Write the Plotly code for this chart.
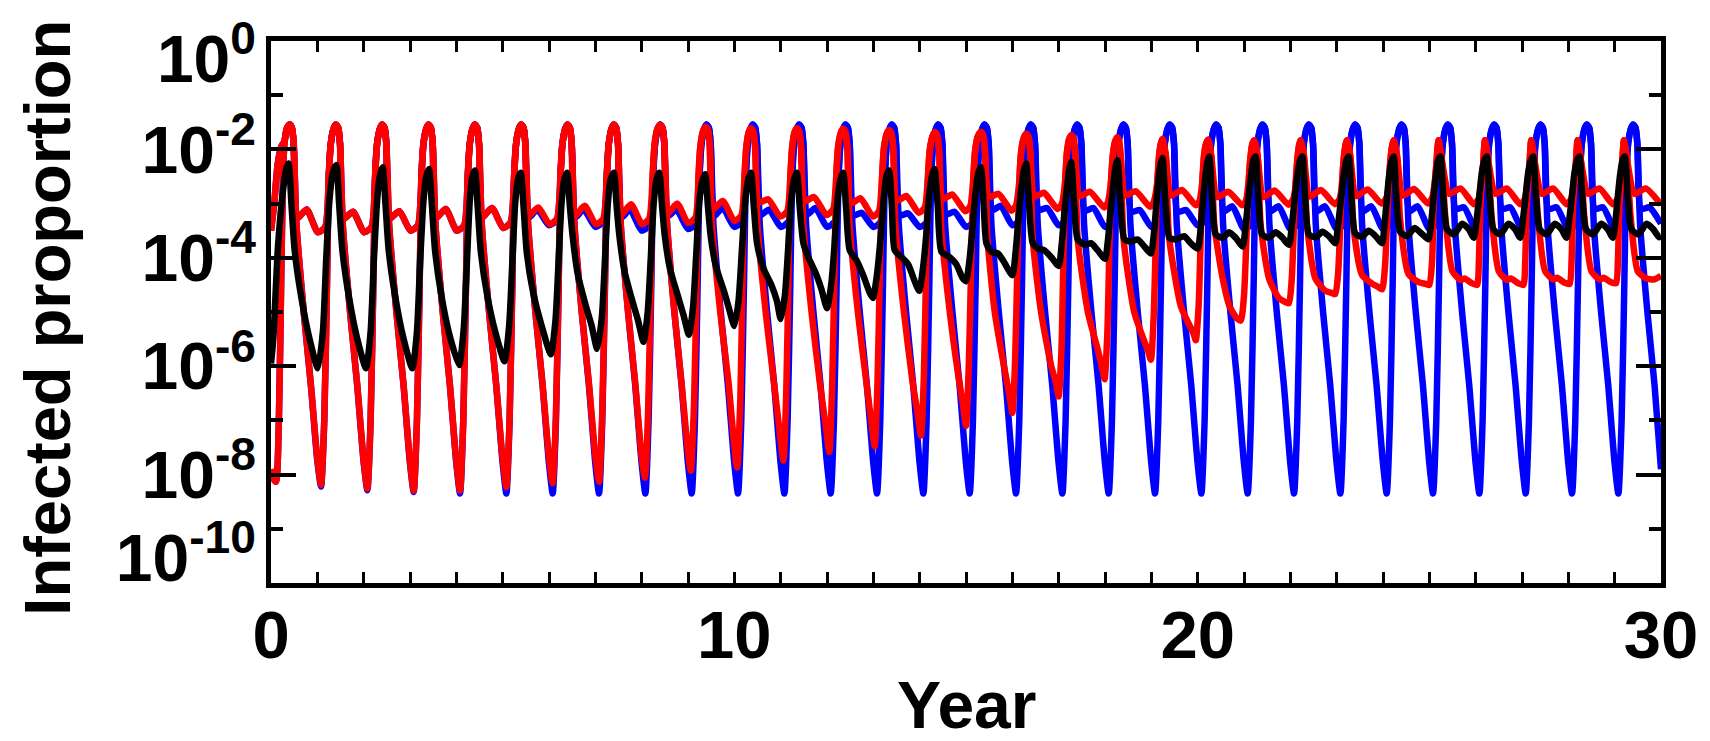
import plotly.graph_objects as go

FONT = "Liberation Sans, Arial, Helvetica, sans-serif"

# (year, log10 of infected proportion)

blue_main = [
    (0.00, -7.90), (0.06, -8.08), (0.11, -8.13), (0.17, -7.00), (0.22, -4.40), (0.26, -2.45), (0.29, -1.90), (0.34, -1.62), (0.40, -1.54),
    (0.45, -1.60), (0.49, -1.90), (0.55, -3.40), (0.71, -5.03), (0.86, -6.34), (1.00, -7.75), (1.08, -8.22), (1.15, -7.00), (1.21, -4.40), (1.25, -2.45), (1.29, -1.90), (1.35, -1.62), (1.40, -1.54),
    (1.45, -1.60), (1.49, -1.90), (1.55, -3.40), (1.71, -5.03), (1.86, -6.34), (2.00, -7.78), (2.08, -8.29), (2.15, -7.00), (2.21, -4.40), (2.25, -2.45), (2.29, -1.90), (2.35, -1.62), (2.40, -1.54),
    (2.45, -1.60), (2.49, -1.90), (2.55, -3.40), (2.71, -5.03), (2.86, -6.34), (3.00, -7.80), (3.08, -8.32), (3.15, -7.00), (3.21, -4.40), (3.25, -2.45), (3.29, -1.90), (3.35, -1.62), (3.40, -1.54),
    (3.45, -1.60), (3.49, -1.90), (3.55, -3.40), (3.71, -5.03), (3.86, -6.34), (4.00, -7.80), (4.08, -8.35), (4.15, -7.00), (4.21, -4.40), (4.25, -2.45), (4.29, -1.90), (4.35, -1.62), (4.40, -1.54),
    (4.45, -1.60), (4.49, -1.90), (4.55, -3.40), (4.71, -5.03), (4.86, -6.34), (5.00, -7.80), (5.08, -8.35), (5.15, -7.00), (5.21, -4.40), (5.25, -2.45), (5.29, -1.90), (5.35, -1.62), (5.40, -1.54),
    (5.45, -1.60), (5.49, -1.90), (5.55, -3.40), (5.71, -5.03), (5.86, -6.34), (6.00, -7.80), (6.08, -8.35), (6.15, -7.00), (6.21, -4.40), (6.25, -2.45), (6.29, -1.90), (6.35, -1.62), (6.40, -1.54),
    (6.45, -1.60), (6.49, -1.90), (6.55, -3.40), (6.71, -5.03), (6.86, -6.34), (7.00, -7.80), (7.08, -8.35), (7.15, -7.00), (7.21, -4.40), (7.25, -2.45), (7.29, -1.90), (7.35, -1.62), (7.40, -1.54),
    (7.45, -1.60), (7.49, -1.90), (7.55, -3.40), (7.71, -5.03), (7.86, -6.34), (8.00, -7.80), (8.08, -8.35), (8.15, -7.00), (8.21, -4.40), (8.25, -2.45), (8.29, -1.90), (8.35, -1.62), (8.40, -1.54),
    (8.45, -1.60), (8.49, -1.90), (8.55, -3.40), (8.71, -5.03), (8.86, -6.34), (9.00, -7.80), (9.08, -8.35), (9.15, -7.00), (9.21, -4.40), (9.25, -2.45), (9.29, -1.90), (9.35, -1.62), (9.40, -1.54),
    (9.45, -1.60), (9.49, -1.90), (9.55, -3.40), (9.71, -5.03), (9.86, -6.34), (10.00, -7.80), (10.08, -8.35), (10.15, -7.00), (10.21, -4.40), (10.25, -2.45), (10.29, -1.90), (10.35, -1.62), (10.40, -1.54),
    (10.45, -1.60), (10.49, -1.90), (10.55, -3.40), (10.71, -5.03), (10.86, -6.34), (11.00, -7.80), (11.08, -8.35), (11.15, -7.00), (11.21, -4.40), (11.25, -2.45), (11.29, -1.90), (11.35, -1.62), (11.40, -1.54),
    (11.45, -1.60), (11.49, -1.90), (11.55, -3.40), (11.71, -5.03), (11.86, -6.34), (12.00, -7.80), (12.08, -8.35), (12.15, -7.00), (12.21, -4.40), (12.25, -2.45), (12.29, -1.90), (12.35, -1.62), (12.40, -1.54),
    (12.45, -1.60), (12.49, -1.90), (12.55, -3.40), (12.71, -5.03), (12.86, -6.34), (13.00, -7.80), (13.08, -8.35), (13.15, -7.00), (13.21, -4.40), (13.25, -2.45), (13.29, -1.90), (13.35, -1.62), (13.40, -1.54),
    (13.45, -1.60), (13.49, -1.90), (13.55, -3.40), (13.71, -5.03), (13.86, -6.34), (14.00, -7.80), (14.08, -8.35), (14.15, -7.00), (14.21, -4.40), (14.25, -2.45), (14.29, -1.90), (14.35, -1.62), (14.40, -1.54),
    (14.45, -1.60), (14.49, -1.90), (14.55, -3.40), (14.71, -5.03), (14.86, -6.34), (15.00, -7.80), (15.08, -8.35), (15.15, -7.00), (15.21, -4.40), (15.25, -2.45), (15.29, -1.90), (15.35, -1.62), (15.40, -1.54),
    (15.45, -1.60), (15.49, -1.90), (15.55, -3.40), (15.71, -5.03), (15.86, -6.34), (16.00, -7.80), (16.08, -8.35), (16.15, -7.00), (16.21, -4.40), (16.25, -2.45), (16.29, -1.90), (16.35, -1.62), (16.40, -1.54),
    (16.45, -1.60), (16.49, -1.90), (16.55, -3.40), (16.71, -5.03), (16.86, -6.34), (17.00, -7.80), (17.08, -8.35), (17.15, -7.00), (17.21, -4.40), (17.25, -2.45), (17.29, -1.90), (17.35, -1.62), (17.40, -1.54),
    (17.45, -1.60), (17.49, -1.90), (17.55, -3.40), (17.71, -5.03), (17.86, -6.34), (18.00, -7.80), (18.08, -8.35), (18.15, -7.00), (18.21, -4.40), (18.25, -2.45), (18.29, -1.90), (18.35, -1.62), (18.40, -1.54),
    (18.45, -1.60), (18.49, -1.90), (18.55, -3.40), (18.71, -5.03), (18.86, -6.34), (19.00, -7.80), (19.08, -8.35), (19.15, -7.00), (19.21, -4.40), (19.25, -2.45), (19.29, -1.90), (19.35, -1.62), (19.40, -1.54),
    (19.45, -1.60), (19.49, -1.90), (19.55, -3.40), (19.71, -5.03), (19.86, -6.34), (20.00, -7.80), (20.08, -8.35), (20.15, -7.00), (20.21, -4.40), (20.25, -2.45), (20.29, -1.90), (20.35, -1.62), (20.40, -1.54),
    (20.45, -1.60), (20.49, -1.90), (20.55, -3.40), (20.71, -5.03), (20.86, -6.34), (21.00, -7.80), (21.08, -8.35), (21.15, -7.00), (21.21, -4.40), (21.25, -2.45), (21.29, -1.90), (21.35, -1.62), (21.40, -1.54),
    (21.45, -1.60), (21.49, -1.90), (21.55, -3.40), (21.71, -5.03), (21.86, -6.34), (22.00, -7.80), (22.08, -8.35), (22.15, -7.00), (22.21, -4.40), (22.25, -2.45), (22.29, -1.90), (22.35, -1.62), (22.40, -1.54),
    (22.45, -1.60), (22.49, -1.90), (22.55, -3.40), (22.71, -5.03), (22.86, -6.34), (23.00, -7.80), (23.08, -8.35), (23.15, -7.00), (23.21, -4.40), (23.25, -2.45), (23.29, -1.90), (23.35, -1.62), (23.40, -1.54),
    (23.45, -1.60), (23.49, -1.90), (23.55, -3.40), (23.71, -5.03), (23.86, -6.34), (24.00, -7.80), (24.08, -8.35), (24.15, -7.00), (24.21, -4.40), (24.25, -2.45), (24.29, -1.90), (24.35, -1.62), (24.40, -1.54),
    (24.45, -1.60), (24.49, -1.90), (24.55, -3.40), (24.71, -5.03), (24.86, -6.34), (25.00, -7.80), (25.08, -8.35), (25.15, -7.00), (25.21, -4.40), (25.25, -2.45), (25.29, -1.90), (25.35, -1.62), (25.40, -1.54),
    (25.45, -1.60), (25.49, -1.90), (25.55, -3.40), (25.71, -5.03), (25.86, -6.34), (26.00, -7.80), (26.08, -8.35), (26.15, -7.00), (26.21, -4.40), (26.25, -2.45), (26.29, -1.90), (26.35, -1.62), (26.40, -1.54),
    (26.45, -1.60), (26.49, -1.90), (26.55, -3.40), (26.71, -5.03), (26.86, -6.34), (27.00, -7.80), (27.08, -8.35), (27.15, -7.00), (27.21, -4.40), (27.25, -2.45), (27.29, -1.90), (27.35, -1.62), (27.40, -1.54),
    (27.45, -1.60), (27.49, -1.90), (27.55, -3.40), (27.71, -5.03), (27.86, -6.34), (28.00, -7.80), (28.08, -8.35), (28.15, -7.00), (28.21, -4.40), (28.25, -2.45), (28.29, -1.90), (28.35, -1.62), (28.40, -1.54),
    (28.45, -1.60), (28.49, -1.90), (28.55, -3.40), (28.71, -5.03), (28.86, -6.34), (29.00, -7.80), (29.08, -8.35), (29.15, -7.00), (29.21, -4.40), (29.25, -2.45), (29.29, -1.90), (29.35, -1.62), (29.40, -1.54),
    (29.45, -1.60), (29.49, -1.90), (29.55, -3.40), (29.71, -5.03), (29.86, -6.34), (30.00, -7.90),
]

blue_upper = [
    (0.00, -3.50), (0.07, -3.00), (0.14, -2.30), (0.22, -1.95), (0.29, -1.85), (0.34, -1.62), (0.40, -1.54),
    (0.45, -1.60), (0.49, -1.90), (0.56, -3.27), (0.77, -3.11), (1.01, -3.53), (1.17, -3.43), (1.25, -2.45), (1.29, -1.90), (1.35, -1.62), (1.40, -1.54),
    (1.45, -1.60), (1.49, -1.90), (1.56, -3.28), (1.77, -3.15), (2.01, -3.53), (2.17, -3.43), (2.25, -2.45), (2.29, -1.90), (2.35, -1.62), (2.40, -1.54),
    (2.45, -1.60), (2.49, -1.90), (2.56, -3.27), (2.77, -3.14), (3.01, -3.50), (3.17, -3.40), (3.25, -2.45), (3.29, -1.90), (3.35, -1.62), (3.40, -1.54),
    (3.45, -1.60), (3.49, -1.90), (3.56, -3.26), (3.77, -3.10), (4.01, -3.50), (4.17, -3.40), (4.25, -2.45), (4.29, -1.90), (4.35, -1.62), (4.40, -1.54),
    (4.45, -1.60), (4.49, -1.90), (4.56, -3.25), (4.77, -3.08), (5.01, -3.45), (5.17, -3.35), (5.25, -2.45), (5.29, -1.90), (5.35, -1.62), (5.40, -1.54),
    (5.45, -1.60), (5.49, -1.90), (5.57, -3.25), (5.75, -3.11), (6.00, -3.40), (6.17, -3.30), (6.25, -2.45), (6.29, -1.90), (6.35, -1.62), (6.40, -1.54),
    (6.45, -1.60), (6.49, -1.90), (6.57, -3.25), (6.75, -3.11), (7.00, -3.43), (7.17, -3.33), (7.25, -2.45), (7.29, -1.90), (7.35, -1.62), (7.40, -1.54),
    (7.45, -1.60), (7.49, -1.90), (7.57, -3.25), (7.75, -3.11), (8.00, -3.50), (8.17, -3.40), (8.25, -2.45), (8.29, -1.90), (8.35, -1.62), (8.40, -1.54),
    (8.45, -1.60), (8.49, -1.90), (8.57, -3.23), (8.75, -3.11), (9.00, -3.47), (9.17, -3.37), (9.25, -2.45), (9.29, -1.90), (9.35, -1.62), (9.40, -1.54),
    (9.45, -1.60), (9.49, -1.90), (9.57, -3.22), (9.75, -3.08), (10.00, -3.43), (10.17, -3.33), (10.25, -2.45), (10.29, -1.90), (10.35, -1.62), (10.40, -1.54),
    (10.45, -1.60), (10.49, -1.90), (10.57, -3.21), (10.75, -3.11), (11.00, -3.43), (11.17, -3.33), (11.25, -2.45), (11.29, -1.90), (11.35, -1.62), (11.40, -1.54),
    (11.45, -1.60), (11.49, -1.90), (11.57, -3.20), (11.75, -3.08), (12.00, -3.43), (12.17, -3.33), (12.25, -2.45), (12.29, -1.90), (12.35, -1.62), (12.40, -1.54),
    (12.45, -1.60), (12.49, -1.90), (12.57, -3.22), (12.75, -3.17), (13.00, -3.43), (13.17, -3.33), (13.25, -2.45), (13.29, -1.90), (13.35, -1.62), (13.40, -1.54),
    (13.45, -1.60), (13.49, -1.90), (13.57, -3.22), (13.75, -3.18), (14.00, -3.43), (14.17, -3.33), (14.25, -2.45), (14.29, -1.90), (14.35, -1.62), (14.40, -1.54),
    (14.45, -1.60), (14.49, -1.90), (14.57, -3.20), (14.75, -3.15), (15.00, -3.43), (15.17, -3.33), (15.25, -2.45), (15.29, -1.90), (15.35, -1.62), (15.40, -1.54),
    (15.45, -1.60), (15.49, -1.90), (15.57, -3.12), (15.75, -3.04), (16.00, -3.40), (16.17, -3.30), (16.25, -2.45), (16.29, -1.90), (16.35, -1.62), (16.40, -1.54),
    (16.45, -1.60), (16.49, -1.90), (16.57, -3.12), (16.75, -3.08), (17.00, -3.40), (17.17, -3.30), (17.25, -2.45), (17.29, -1.90), (17.35, -1.62), (17.40, -1.54),
    (17.45, -1.60), (17.49, -1.90), (17.57, -3.13), (17.75, -3.08), (18.00, -3.43), (18.17, -3.33), (18.25, -2.45), (18.29, -1.90), (18.35, -1.62), (18.40, -1.54),
    (18.45, -1.60), (18.49, -1.90), (18.57, -3.15), (18.75, -3.12), (19.00, -3.43), (19.17, -3.33), (19.25, -2.45), (19.29, -1.90), (19.35, -1.62), (19.40, -1.54),
    (19.45, -1.60), (19.49, -1.90), (19.57, -3.15), (19.75, -3.12), (20.00, -3.40), (20.17, -3.30), (20.25, -2.45), (20.29, -1.90), (20.35, -1.62), (20.40, -1.54),
    (20.45, -1.60), (20.49, -1.90), (20.57, -3.14), (20.75, -3.05), (21.00, -3.47), (21.17, -3.37), (21.25, -2.45), (21.29, -1.90), (21.35, -1.62), (21.40, -1.54),
    (21.45, -1.60), (21.49, -1.90), (21.57, -3.14), (21.75, -3.05), (22.00, -3.47), (22.17, -3.37), (22.25, -2.45), (22.29, -1.90), (22.35, -1.62), (22.40, -1.54),
    (22.45, -1.60), (22.49, -1.90), (22.57, -3.14), (22.75, -3.05), (23.00, -3.47), (23.17, -3.37), (23.25, -2.45), (23.29, -1.90), (23.35, -1.62), (23.40, -1.54),
    (23.45, -1.60), (23.49, -1.90), (23.57, -3.14), (23.75, -3.05), (24.00, -3.47), (24.17, -3.37), (24.25, -2.45), (24.29, -1.90), (24.35, -1.62), (24.40, -1.54),
    (24.45, -1.60), (24.49, -1.90), (24.57, -3.14), (24.75, -3.05), (25.00, -3.47), (25.17, -3.37), (25.25, -2.45), (25.29, -1.90), (25.35, -1.62), (25.40, -1.54),
    (25.45, -1.60), (25.49, -1.90), (25.57, -3.10), (25.75, -3.07), (26.00, -3.47), (26.17, -3.37), (26.25, -2.45), (26.29, -1.90), (26.35, -1.62), (26.40, -1.54),
    (26.45, -1.60), (26.49, -1.90), (26.57, -3.10), (26.75, -3.07), (27.00, -3.47), (27.17, -3.37), (27.25, -2.45), (27.29, -1.90), (27.35, -1.62), (27.40, -1.54),
    (27.45, -1.60), (27.49, -1.90), (27.57, -3.10), (27.75, -3.07), (28.00, -3.47), (28.17, -3.37), (28.25, -2.45), (28.29, -1.90), (28.35, -1.62), (28.40, -1.54),
    (28.45, -1.60), (28.49, -1.90), (28.57, -3.10), (28.75, -3.07), (29.00, -3.47), (29.17, -3.37), (29.25, -2.45), (29.29, -1.90), (29.35, -1.62), (29.40, -1.54),
    (29.45, -1.60), (29.49, -1.90), (29.57, -3.10), (29.75, -3.07), (30.00, -3.37),
]

red_main = [
    (0.00, -7.90), (0.06, -8.08), (0.11, -8.13), (0.17, -7.00), (0.22, -4.40), (0.26, -2.45), (0.29, -1.90), (0.34, -1.62), (0.40, -1.54),
    (0.45, -1.60), (0.49, -1.90), (0.55, -3.40), (0.71, -5.03), (0.86, -6.34), (1.00, -7.70), (1.08, -8.19), (1.15, -7.00), (1.21, -4.40), (1.25, -2.45), (1.29, -1.90), (1.35, -1.62), (1.40, -1.54),
    (1.45, -1.60), (1.49, -1.90), (1.55, -3.40), (1.71, -5.03), (1.86, -6.34), (2.00, -7.75), (2.08, -8.26), (2.15, -7.00), (2.21, -4.40), (2.25, -2.45), (2.29, -1.90), (2.35, -1.62), (2.40, -1.54),
    (2.45, -1.60), (2.49, -1.90), (2.55, -3.40), (2.71, -5.03), (2.86, -6.34), (3.00, -7.76), (3.08, -8.30), (3.15, -7.00), (3.21, -4.40), (3.25, -2.45), (3.29, -1.90), (3.35, -1.62), (3.40, -1.54),
    (3.45, -1.60), (3.49, -1.90), (3.55, -3.40), (3.71, -5.03), (3.86, -6.34), (4.00, -7.76), (4.08, -8.30), (4.15, -7.00), (4.21, -4.40), (4.25, -2.45), (4.29, -1.90), (4.35, -1.62), (4.40, -1.54),
    (4.45, -1.60), (4.49, -1.90), (4.55, -3.40), (4.71, -5.03), (4.86, -6.34), (5.00, -7.72), (5.08, -8.23), (5.15, -6.95), (5.21, -4.40), (5.25, -2.45), (5.29, -1.90), (5.35, -1.62), (5.40, -1.54),
    (5.45, -1.60), (5.49, -1.90), (5.55, -3.40), (5.71, -5.03), (5.86, -6.32), (6.00, -7.68), (6.08, -8.16), (6.15, -6.90), (6.21, -4.40), (6.25, -2.45), (6.29, -1.90), (6.35, -1.62), (6.40, -1.54),
    (6.45, -1.60), (6.49, -1.90), (6.55, -3.40), (6.71, -5.03), (6.86, -6.30), (7.00, -7.65), (7.08, -8.13), (7.15, -6.85), (7.21, -4.40), (7.25, -2.45), (7.29, -1.90), (7.35, -1.62), (7.40, -1.54),
    (7.45, -1.60), (7.49, -1.90), (7.55, -3.40), (7.71, -5.03), (7.86, -6.30), (7.99, -7.60), (8.07, -8.06), (8.14, -6.80), (8.20, -4.40), (8.24, -2.45), (8.28, -1.90), (8.34, -1.62), (8.40, -1.55),
    (8.45, -1.61), (8.49, -1.91), (8.55, -3.40), (8.71, -5.03), (8.86, -6.30), (8.99, -7.50), (9.06, -7.93), (9.13, -6.70), (9.19, -4.30), (9.23, -2.45), (9.27, -1.92), (9.33, -1.65), (9.38, -1.58),
    (9.43, -1.64), (9.47, -1.95), (9.52, -3.40), (9.70, -5.03), (9.88, -6.34), (9.99, -7.40), (10.06, -7.87), (10.13, -6.60), (10.18, -4.30), (10.22, -2.50), (10.26, -1.95), (10.31, -1.68), (10.36, -1.61),
    (10.41, -1.67), (10.45, -1.97), (10.50, -3.40), (10.68, -5.03), (10.86, -6.34), (10.99, -7.30), (11.06, -7.74), (11.12, -6.50), (11.17, -4.30), (11.21, -2.50), (11.25, -1.95), (11.30, -1.68), (11.35, -1.61),
    (11.40, -1.67), (11.44, -1.97), (11.49, -3.40), (11.67, -5.03), (11.85, -6.34), (11.98, -7.15), (12.05, -7.58), (12.11, -6.40), (12.16, -4.30), (12.20, -2.50), (12.24, -1.95), (12.30, -1.69), (12.35, -1.62),
    (12.40, -1.68), (12.44, -1.98), (12.49, -3.42), (12.67, -5.03), (12.85, -6.30), (12.96, -7.05), (13.03, -7.48), (13.09, -6.30), (13.14, -4.30), (13.19, -2.50), (13.23, -1.97), (13.29, -1.71), (13.34, -1.64),
    (13.39, -1.70), (13.43, -2.00), (13.48, -3.45), (13.66, -5.00), (13.84, -6.25), (13.96, -6.90), (14.03, -7.28), (14.09, -6.20), (14.14, -4.20), (14.18, -2.50), (14.22, -2.00), (14.28, -1.75), (14.33, -1.68),
    (14.38, -1.74), (14.42, -2.04), (14.47, -3.50), (14.65, -5.00), (14.83, -6.15), (14.94, -6.75), (15.00, -7.10), (15.06, -6.00), (15.11, -4.20), (15.16, -2.50), (15.20, -2.00), (15.26, -1.75), (15.32, -1.68),
    (15.37, -1.74), (15.41, -2.04), (15.46, -3.60), (15.62, -5.00), (15.82, -6.00), (15.94, -6.55), (16.00, -6.86), (16.06, -5.90), (16.11, -4.10), (16.15, -2.60), (16.19, -2.05), (16.25, -1.78), (16.30, -1.71),
    (16.35, -1.77), (16.39, -2.07), (16.44, -3.65), (16.62, -5.00), (16.84, -6.00), (16.94, -6.30), (17.00, -6.56), (17.06, -5.70), (17.10, -4.10), (17.14, -2.60), (17.18, -2.05), (17.23, -1.80), (17.28, -1.74),
    (17.32, -1.80), (17.36, -2.10), (17.41, -3.65), (17.63, -5.00), (17.84, -5.68), (17.93, -6.00), (17.99, -6.24), (18.05, -5.40), (18.09, -4.00), (18.13, -2.60), (18.17, -2.10), (18.22, -1.85), (18.26, -1.78),
    (18.30, -1.84), (18.34, -2.14), (18.40, -3.65), (18.63, -5.00), (18.84, -5.52), (18.93, -5.72), (18.99, -5.88), (19.05, -5.10), (19.09, -3.90), (19.13, -2.60), (19.17, -2.10), (19.21, -1.88), (19.24, -1.81),
    (19.31, -2.10), (19.38, -3.60), (19.64, -4.90), (19.85, -5.29), (19.92, -5.42), (19.96, -5.52), (20.02, -4.90), (20.06, -3.80), (20.10, -2.60), (20.14, -2.10), (20.18, -1.90), (20.22, -1.82),
    (20.29, -2.10), (20.36, -3.40), (20.54, -4.38), (20.69, -4.90), (20.85, -5.12), (20.93, -5.16), (21.00, -4.70), (21.05, -3.70), (21.10, -2.60), (21.14, -2.15), (21.18, -1.90), (21.22, -1.83),
    (21.29, -2.10), (21.36, -3.40), (21.54, -4.38), (21.75, -4.74), (21.90, -4.82), (21.97, -4.84), (22.03, -4.40), (22.07, -3.60), (22.11, -2.70), (22.15, -2.20), (22.19, -1.92), (22.22, -1.83),
    (22.29, -2.10), (22.36, -3.40), (22.54, -4.38), (22.76, -4.61), (22.90, -4.65), (22.97, -4.67), (23.03, -4.30), (23.07, -3.55), (23.11, -2.70), (23.15, -2.20), (23.19, -1.92), (23.22, -1.83),
    (23.29, -2.10), (23.36, -3.40), (23.55, -4.32), (23.77, -4.48), (23.90, -4.54), (23.98, -4.58), (24.04, -4.20), (24.08, -3.50), (24.12, -2.70), (24.16, -2.20), (24.20, -1.92), (24.23, -1.83),
    (24.30, -2.10), (24.37, -3.30), (24.55, -4.30), (24.77, -4.45), (24.92, -4.48), (25.00, -4.50), (25.06, -4.05), (25.09, -3.10), (25.12, -2.60), (25.15, -2.30), (25.18, -1.95), (25.20, -1.83),
    (25.27, -2.20), (25.34, -3.20), (25.50, -4.25), (25.68, -4.41), (25.76, -4.38), (25.92, -4.47), (26.03, -4.50), (26.07, -4.05), (26.10, -3.08), (26.16, -2.30), (26.20, -1.83),
    (26.27, -2.20), (26.34, -3.20), (26.50, -4.25), (26.68, -4.41), (26.76, -4.38), (26.92, -4.47), (27.03, -4.50), (27.07, -4.05), (27.10, -3.08), (27.16, -2.30), (27.20, -1.83),
    (27.27, -2.20), (27.34, -3.20), (27.50, -4.25), (27.68, -4.40), (27.76, -4.37), (27.92, -4.46), (28.03, -4.48), (28.07, -4.05), (28.10, -3.08), (28.16, -2.30), (28.20, -1.83),
    (28.27, -2.20), (28.34, -3.20), (28.50, -4.25), (28.68, -4.40), (28.76, -4.37), (28.92, -4.45), (29.03, -4.47), (29.07, -4.05), (29.10, -3.08), (29.16, -2.30), (29.20, -1.83),
    (29.27, -2.20), (29.34, -3.20), (29.50, -4.25), (29.68, -4.38), (29.85, -4.40), (30.00, -4.33),
]

red_upper = [
    (0.00, -3.50), (0.07, -3.00), (0.14, -2.30), (0.22, -1.95), (0.29, -1.85), (0.34, -1.62), (0.40, -1.54),
    (0.45, -1.60), (0.49, -1.90), (0.56, -3.27), (0.77, -3.11), (1.01, -3.53), (1.17, -3.43), (1.25, -2.45), (1.29, -1.90), (1.35, -1.62), (1.40, -1.54),
    (1.45, -1.60), (1.49, -1.90), (1.56, -3.28), (1.77, -3.15), (2.01, -3.53), (2.17, -3.43), (2.25, -2.45), (2.29, -1.90), (2.35, -1.62), (2.40, -1.54),
    (2.45, -1.60), (2.49, -1.90), (2.56, -3.27), (2.77, -3.14), (3.01, -3.50), (3.17, -3.40), (3.25, -2.45), (3.29, -1.90), (3.35, -1.62), (3.40, -1.54),
    (3.45, -1.60), (3.49, -1.90), (3.56, -3.26), (3.77, -3.10), (4.01, -3.50), (4.17, -3.40), (4.25, -2.45), (4.29, -1.90), (4.35, -1.62), (4.40, -1.54),
    (4.45, -1.60), (4.49, -1.90), (4.56, -3.25), (4.77, -3.08), (5.01, -3.45), (5.17, -3.35), (5.25, -2.45), (5.29, -1.90), (5.35, -1.62), (5.40, -1.54),
    (5.45, -1.60), (5.49, -1.90), (5.56, -3.22), (5.77, -3.07), (6.01, -3.38), (6.17, -3.28), (6.25, -2.45), (6.29, -1.90), (6.35, -1.62), (6.40, -1.54),
    (6.45, -1.60), (6.49, -1.90), (6.56, -3.22), (6.77, -3.04), (7.01, -3.38), (7.17, -3.28), (7.25, -2.45), (7.29, -1.90), (7.35, -1.62), (7.40, -1.54),
    (7.45, -1.60), (7.49, -1.90), (7.56, -3.20), (7.77, -3.01), (8.01, -3.38), (8.16, -3.28), (8.24, -2.45), (8.28, -1.90), (8.34, -1.62), (8.40, -1.55),
    (8.45, -1.61), (8.49, -1.91), (8.56, -3.18), (8.77, -3.00), (9.00, -3.36), (9.16, -3.26), (9.23, -2.45), (9.27, -1.92), (9.33, -1.65), (9.38, -1.58),
    (9.43, -1.64), (9.47, -1.95), (9.54, -3.10), (9.75, -2.95), (10.00, -3.32), (10.15, -3.22), (10.22, -2.50), (10.26, -1.95), (10.31, -1.68), (10.36, -1.61),
    (10.41, -1.67), (10.45, -1.97), (10.53, -2.98), (10.73, -2.92), (10.99, -3.24), (11.14, -3.14), (11.21, -2.50), (11.25, -1.95), (11.30, -1.68), (11.35, -1.61),
    (11.40, -1.67), (11.44, -1.97), (11.52, -2.95), (11.72, -2.88), (11.99, -3.21), (12.13, -3.11), (12.20, -2.50), (12.24, -1.95), (12.30, -1.69), (12.35, -1.62),
    (12.40, -1.68), (12.44, -1.98), (12.52, -3.00), (12.72, -2.90), (12.99, -3.24), (13.12, -3.14), (13.19, -2.50), (13.23, -1.97), (13.29, -1.71), (13.34, -1.64),
    (13.39, -1.70), (13.43, -2.00), (13.51, -2.95), (13.71, -2.86), (13.98, -3.17), (14.11, -3.07), (14.18, -2.50), (14.22, -2.00), (14.28, -1.75), (14.33, -1.68),
    (14.38, -1.74), (14.42, -2.04), (14.50, -2.92), (14.70, -2.83), (14.98, -3.14), (15.09, -3.05), (15.16, -2.50), (15.20, -2.00), (15.26, -1.75), (15.32, -1.68),
    (15.37, -1.74), (15.41, -2.04), (15.50, -2.88), (15.70, -2.82), (15.98, -3.13), (16.08, -3.03), (16.15, -2.60), (16.19, -2.05), (16.25, -1.78), (16.30, -1.71),
    (16.35, -1.77), (16.39, -2.07), (16.48, -2.87), (16.68, -2.80), (16.98, -3.10), (17.07, -3.00), (17.14, -2.60), (17.18, -2.05), (17.23, -1.80), (17.28, -1.74),
    (17.32, -1.80), (17.36, -2.10), (17.46, -2.86), (17.67, -2.78), (17.98, -3.07), (18.06, -2.98), (18.13, -2.60), (18.17, -2.10), (18.22, -1.85), (18.26, -1.78),
    (18.30, -1.84), (18.34, -2.14), (18.44, -2.85), (18.66, -2.77), (18.97, -3.06), (19.05, -2.97), (19.13, -2.60), (19.17, -2.10), (19.21, -1.88), (19.24, -1.81),
    (19.31, -2.10), (19.43, -2.85), (19.66, -2.75), (19.96, -3.03), (20.04, -2.95), (20.10, -2.60), (20.14, -2.10), (20.18, -1.90), (20.22, -1.82),
    (20.29, -2.10), (20.42, -2.88), (20.66, -2.78), (20.96, -3.03), (21.04, -2.95), (21.10, -2.60), (21.14, -2.15), (21.18, -1.90), (21.22, -1.83),
    (21.29, -2.10), (21.42, -2.88), (21.66, -2.76), (21.96, -3.02), (22.06, -2.92), (22.11, -2.70), (22.15, -2.20), (22.19, -1.92), (22.22, -1.83),
    (22.29, -2.10), (22.42, -2.87), (22.66, -2.75), (22.96, -3.01), (23.06, -2.92), (23.11, -2.70), (23.15, -2.20), (23.19, -1.92), (23.22, -1.83),
    (23.29, -2.10), (23.42, -2.86), (23.67, -2.74), (23.97, -3.00), (24.07, -2.90), (24.12, -2.70), (24.16, -2.20), (24.20, -1.92), (24.23, -1.83),
    (24.30, -2.10), (24.43, -2.85), (24.67, -2.73), (24.97, -3.00), (25.06, -2.90), (25.12, -2.60), (25.15, -2.30), (25.18, -1.95), (25.20, -1.83),
    (25.27, -2.20), (25.43, -2.82), (25.67, -2.72), (25.96, -3.01), (26.06, -2.92), (26.12, -2.60), (26.16, -2.30), (26.20, -1.83),
    (26.27, -2.20), (26.43, -2.82), (26.67, -2.72), (26.96, -3.01), (27.06, -2.92), (27.12, -2.60), (27.16, -2.30), (27.20, -1.83),
    (27.27, -2.20), (27.43, -2.82), (27.67, -2.72), (27.96, -3.01), (28.06, -2.92), (28.12, -2.60), (28.16, -2.30), (28.20, -1.83),
    (28.27, -2.20), (28.43, -2.82), (28.67, -2.72), (28.96, -3.01), (29.06, -2.92), (29.12, -2.60), (29.16, -2.30), (29.20, -1.83),
    (29.27, -2.20), (29.43, -2.82), (29.67, -2.72), (30.00, -3.02),
]

black_mid = [
    (0.00, -5.95), (0.05, -5.50), (0.15, -3.80), (0.26, -2.75), (0.33, -2.35), (0.38, -2.26),
    (0.44, -3.00), (0.51, -3.86), (0.65, -4.71), (0.83, -5.49), (1.01, -6.04), (1.12, -5.36), (1.19, -4.05), (1.26, -2.95), (1.33, -2.45), (1.41, -2.29),
    (1.47, -3.00), (1.54, -3.86), (1.68, -4.71), (1.86, -5.49), (2.05, -6.04), (2.15, -5.36), (2.22, -4.05), (2.29, -2.95), (2.35, -2.48), (2.41, -2.33),
    (2.47, -3.00), (2.54, -3.86), (2.68, -4.71), (2.86, -5.49), (3.05, -6.04), (3.15, -5.36), (3.22, -4.05), (3.29, -2.95), (3.35, -2.50), (3.41, -2.36),
    (3.47, -3.00), (3.54, -3.86), (3.68, -4.71), (3.86, -5.45), (4.06, -5.98), (4.16, -5.30), (4.23, -4.05), (4.29, -2.95), (4.34, -2.52), (4.40, -2.39),
    (4.46, -3.05), (4.53, -3.90), (4.67, -4.71), (4.85, -5.40), (5.04, -5.91), (5.14, -5.25), (5.21, -4.05), (5.27, -3.00), (5.33, -2.55), (5.39, -2.43),
    (5.45, -3.05), (5.52, -3.90), (5.66, -4.65), (5.84, -5.25), (6.04, -5.78), (6.14, -5.15), (6.21, -4.00), (6.27, -3.00), (6.33, -2.55), (6.39, -2.43),
    (6.45, -3.05), (6.51, -3.60), (6.62, -4.30), (6.80, -4.90), (6.92, -5.25), (7.04, -5.68), (7.14, -5.10), (7.21, -4.00), (7.27, -3.00), (7.33, -2.55), (7.40, -2.43),
    (7.46, -3.05), (7.52, -3.60), (7.63, -4.25), (7.80, -4.80), (7.92, -5.15), (8.04, -5.55), (8.13, -5.00), (8.20, -3.95), (8.26, -3.00), (8.32, -2.55), (8.38, -2.43),
    (8.44, -3.05), (8.50, -3.60), (8.61, -4.20), (8.78, -4.70), (8.90, -5.05), (9.02, -5.42), (9.11, -4.90), (9.18, -3.90), (9.24, -3.00), (9.31, -2.58), (9.37, -2.46),
    (9.43, -3.05), (9.49, -3.60), (9.60, -4.15), (9.77, -4.60), (9.89, -4.95), (10.00, -5.26), (10.09, -4.80), (10.16, -3.90), (10.23, -3.00), (10.30, -2.55), (10.36, -2.43),
    (10.42, -3.05), (10.49, -3.73), (10.63, -4.20), (10.80, -4.50), (10.92, -4.80), (11.00, -5.13), (11.09, -4.70), (11.16, -3.85), (11.22, -3.00), (11.29, -2.55), (11.35, -2.43),
    (11.41, -3.05), (11.49, -3.73), (11.60, -4.00), (11.74, -4.25), (11.88, -4.58), (12.00, -4.93), (12.09, -4.50), (12.16, -3.80), (12.22, -3.00), (12.29, -2.55), (12.35, -2.43),
    (12.41, -3.05), (12.49, -3.86), (12.64, -4.05), (12.78, -4.32), (12.92, -4.64), (12.99, -4.74), (13.08, -4.30), (13.15, -3.70), (13.22, -2.95), (13.28, -2.50), (13.34, -2.39),
    (13.40, -3.05), (13.46, -3.86), (13.61, -3.99), (13.75, -4.12), (13.90, -4.45), (13.99, -4.61), (14.07, -4.20), (14.14, -3.60), (14.20, -2.90), (14.27, -2.47), (14.32, -2.36),
    (14.39, -3.05), (14.47, -3.89), (14.65, -3.99), (14.79, -4.12), (14.93, -4.38), (15.00, -4.43), (15.08, -4.00), (15.14, -3.45), (15.20, -2.85), (15.26, -2.45), (15.32, -2.33),
    (15.38, -3.00), (15.44, -3.73), (15.55, -3.89), (15.69, -3.92), (15.80, -4.05), (16.00, -4.32), (16.07, -3.90), (16.13, -3.30), (16.19, -2.75), (16.25, -2.38), (16.30, -2.26),
    (16.36, -3.00), (16.44, -3.73), (16.55, -3.83), (16.69, -3.86), (16.84, -3.99), (17.00, -4.15), (17.06, -3.80), (17.12, -3.20), (17.18, -2.70), (17.23, -2.35), (17.27, -2.23),
    (17.33, -2.95), (17.41, -3.66), (17.56, -3.76), (17.70, -3.73), (17.84, -3.86), (18.00, -4.02), (18.06, -3.70), (18.12, -3.15), (18.18, -2.65), (18.23, -2.30), (18.27, -2.20),
    (18.33, -2.95), (18.42, -3.66), (18.56, -3.70), (18.70, -3.66), (18.85, -3.79), (18.99, -3.92), (19.05, -3.60), (19.10, -3.10), (19.15, -2.60), (19.20, -2.27), (19.24, -2.16),
    (19.30, -2.90), (19.39, -3.63), (19.53, -3.66), (19.71, -3.60), (19.85, -3.73), (20.00, -3.83), (20.06, -3.50), (20.11, -3.00), (20.16, -2.55), (20.21, -2.23), (20.25, -2.13),
    (20.31, -2.90), (20.39, -3.57), (20.54, -3.63), (20.68, -3.53), (20.82, -3.63), (20.97, -3.79), (21.03, -3.45), (21.09, -2.95), (21.15, -2.50), (21.20, -2.20), (21.25, -2.13),
    (21.31, -2.90), (21.39, -3.57), (21.54, -3.63), (21.68, -3.53), (21.82, -3.62), (21.97, -3.76), (22.03, -3.42), (22.09, -2.95), (22.15, -2.50), (22.21, -2.20), (22.26, -2.13),
    (22.32, -2.90), (22.40, -3.57), (22.55, -3.62), (22.69, -3.52), (22.83, -3.60), (22.97, -3.73), (23.03, -3.40), (23.09, -2.95), (23.15, -2.50), (23.21, -2.20), (23.26, -2.13),
    (23.32, -2.90), (23.40, -3.55), (23.55, -3.61), (23.69, -3.50), (23.83, -3.59), (23.98, -3.73), (24.03, -3.40), (24.08, -2.95), (24.13, -2.50), (24.19, -2.20), (24.23, -2.13),
    (24.29, -2.90), (24.37, -3.52), (24.52, -3.60), (24.68, -3.45), (24.83, -3.55), (24.98, -3.66), (25.04, -3.35), (25.09, -2.90), (25.14, -2.50), (25.19, -2.20), (25.24, -2.13),
    (25.30, -2.85), (25.38, -3.47), (25.53, -3.57), (25.71, -3.37), (25.85, -3.47), (25.96, -3.63), (26.02, -3.30), (26.08, -2.85), (26.13, -2.45), (26.19, -2.20), (26.24, -2.13),
    (26.30, -2.85), (26.38, -3.47), (26.53, -3.57), (26.71, -3.37), (26.85, -3.47), (26.96, -3.63), (27.02, -3.30), (27.08, -2.85), (27.13, -2.45), (27.19, -2.20), (27.24, -2.13),
    (27.30, -2.85), (27.38, -3.47), (27.53, -3.57), (27.71, -3.37), (27.85, -3.47), (27.96, -3.63), (28.02, -3.30), (28.08, -2.85), (28.13, -2.45), (28.19, -2.20), (28.24, -2.13),
    (28.30, -2.85), (28.38, -3.47), (28.53, -3.57), (28.71, -3.37), (28.85, -3.47), (28.96, -3.63), (29.02, -3.30), (29.07, -2.85), (29.12, -2.45), (29.17, -2.20), (29.22, -2.13),
    (29.28, -2.85), (29.36, -3.47), (29.51, -3.57), (29.69, -3.37), (29.83, -3.47), (29.96, -3.62), (30.00, -3.58),
]

x_tick_years = [0, 10, 20, 30]
x_minor_years = list(range(1, 30))
y_major_exp = [-2, -4, -6, -8]
y_minor_exp = [-1, -3, -5, -7, -9]
# tick label positions (exponent of the label's anchor) and texts; the end labels sit inside the frame
y_label_pos = [-0.33, -2, -4, -6, -8, -9.53]
y_label_text = ["10<sup>0</sup>", "10<sup>-2</sup>", "10<sup>-4</sup>", "10<sup>-6</sup>",
                "10<sup>-8</sup>", "10<sup>-10</sup>"]

LINE_W = 6.5


def curve(points, color, yaxis="y"):
    return go.Scatter(
        x=[p[0] for p in points],
        y=[10 ** p[1] for p in points],
        mode="lines",
        line=dict(color=color, width=LINE_W, shape="spline", smoothing=0.6),
        yaxis=yaxis,
        showlegend=False,
        hoverinfo="skip",
    )


fig = go.Figure()
fig.add_trace(curve(blue_main, "#0000ff"))
fig.add_trace(curve(blue_upper, "#0000ff"))
fig.add_trace(curve(red_main, "#ff0000"))
fig.add_trace(curve(red_upper, "#ff0000"))
fig.add_trace(curve(black_mid, "#000000", yaxis="y2"))

fig.update_layout(
    width=1710,
    height=741,
    margin=dict(l=271, r=46, t=35, b=158),
    paper_bgcolor="white",
    plot_bgcolor="white",
    font=dict(family=FONT, color="black"),
    xaxis=dict(
        range=[0, 30],
        showline=True, linewidth=5, linecolor="black", mirror="allticks",
        ticks="inside", ticklen=11, tickwidth=3, tickcolor="black",
        tickvals=x_tick_years, ticktext=[str(v) for v in x_tick_years],
        tickfont=dict(size=67, family=FONT, weight="bold"),
        ticklabelstandoff=-10,
        minor=dict(tickvals=x_minor_years, ticks="inside", ticklen=6, tickwidth=3, tickcolor="black", showgrid=False),
        showgrid=False, zeroline=False,
    ),
    yaxis=dict(
        type="log", range=[-10, 0],
        showline=True, linewidth=5, linecolor="black", mirror="allticks",
        ticks="inside", ticklen=25, tickwidth=3.5, tickcolor="black",
        tickvals=[10 ** e for e in y_major_exp], showticklabels=False,
        minor=dict(tickvals=[10 ** e for e in y_minor_exp], ticks="inside", ticklen=12, tickwidth=3.5,
                   tickcolor="black", showgrid=False),
        showgrid=False, zeroline=False,
    ),
    yaxis2=dict(
        type="log", range=[-10, 0], overlaying="y", anchor="x", side="left",
        showline=False, ticks="", showgrid=False, zeroline=False,
        tickvals=[10 ** e for e in y_label_pos], ticktext=y_label_text,
        tickfont=dict(size=66, family=FONT, weight="bold"),
        ticklabelstandoff=14,
    ),
    annotations=[
        dict(text="Infected proportion", xref="paper", yref="paper", x=-0.161, y=0.49,
             xanchor="center", yanchor="middle", textangle=-90, showarrow=False,
             font=dict(size=65, family=FONT, weight="bold")),
        dict(text="Year", xref="paper", yref="paper", x=0.5, y=-0.2245,
             xanchor="center", yanchor="middle", showarrow=False,
             font=dict(size=66, family=FONT, weight="bold")),
    ],
)

fig.write_html("out.html")
